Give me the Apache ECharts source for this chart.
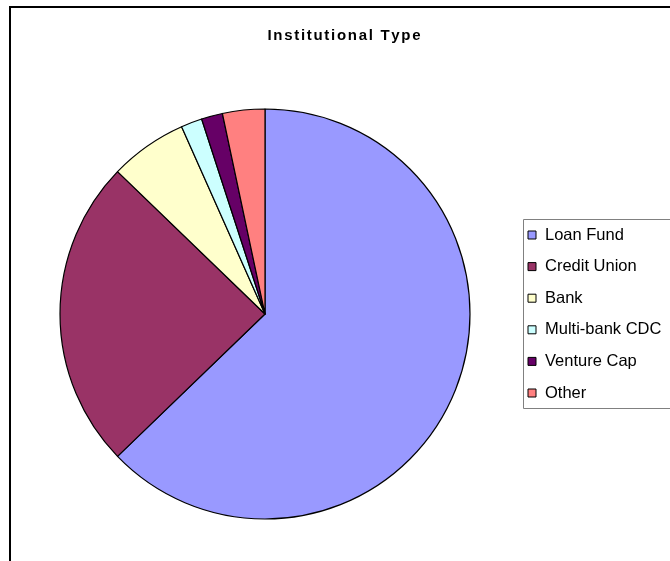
<!DOCTYPE html>
<html>
<head>
<meta charset="utf-8">
<script src="https://cdn.jsdelivr.net/npm/echarts@6/dist/echarts.min.js"></script>
<style>
html,body{margin:0;padding:0;background:#fff;}
#chart{width:670px;height:561px;}
</style>
</head>
<body>
<div id="chart"></div>
<script>
const titleText = 'Institutional Type';
const categories = ['Loan Fund', 'Credit Union', 'Bank', 'Multi-bank CDC', 'Venture Cap', 'Other'];
const values = [113, 44, 11, 3, 3, 6];
const colors = ['#9999FF', '#993366', '#FFFFCC', '#CCFFFF', '#660066', '#FF8080'];

const chart = echarts.init(document.getElementById('chart'), null, {renderer: 'canvas'});
const font = '"Liberation Sans", Arial, sans-serif';

// spaced title built as rich-text tokens (one per character) to mimic letter spacing
const chars = Array.from(titleText);
const titleRich = chars.map((ch, i) => '{' + (i < chars.length - 1 ? 'c' : 'e') + '|' + ch + '}').join('');

chart.setOption({
  animation: false,
  backgroundColor: '#ffffff',
  color: colors,
  graphic: [
    {type: 'rect', shape: {x: 10, y: 7, width: 700, height: 600}, style: {fill: 'none', stroke: '#000', lineWidth: 2}, z: 0},
    {type: 'rect', shape: {x: 523.5, y: 219.5, width: 200, height: 189}, style: {fill: '#fff', stroke: '#808080', lineWidth: 1}, z: 1},
    {type: 'text', x: 344, y: 35.5, style: {
      text: titleRich,
      font: 'bold 15px ' + font,
      fill: '#000', textAlign: 'center', textVerticalAlign: 'middle',
      rich: {
        c: {fontFamily: font, fontWeight: 'bold', fontSize: 15, fill: '#000', padding: [0, 1.7, 0, 0]},
        e: {fontFamily: font, fontWeight: 'bold', fontSize: 15, fill: '#000'}
      }
    }, z: 5}
  ],
  legend: {
    orient: 'vertical',
    left: 527.5,
    top: 225,
    padding: 0,
    icon: 'rect',
    itemWidth: 8,
    itemHeight: 8,
    itemGap: 11.6,
    z: 6,
    itemStyle: {borderColor: '#000', borderWidth: 1},
    textStyle: {fontFamily: font, fontSize: 16.5, color: '#000', lineHeight: 20, padding: [0, 0, 0, 4]},
    data: categories
  },
  series: [{
    type: 'pie',
    center: [265, 314],
    radius: 205,
    startAngle: 90,
    clockwise: true,
    label: {show: false},
    labelLine: {show: false},
    itemStyle: {borderColor: '#000', borderWidth: 1.2},
    emphasis: {disabled: true},
    data: categories.map((c, i) => ({name: c, value: values[i]}))
  }]
});
</script>
</body>
</html>
